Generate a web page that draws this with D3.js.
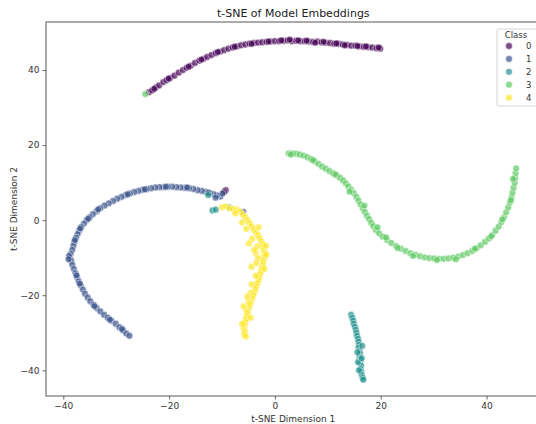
<!DOCTYPE html>
<html>
<head>
<meta charset="utf-8">
<script src="https://cdn.jsdelivr.net/npm/d3@7"></script>
<style>
  body { margin: 0; background: #fff; }
  svg { font-family: "DejaVu Sans", sans-serif; }
</style>
</head>
<body>
<div class="chart"></div>
<script>
// class labels and colours (viridis, 5 classes)
let classes = [0, 1, 2, 3, 4]
let colors = ["#440154", "#3b528b", "#21918c", "#5ec962", "#fde725"]

let xTicks = [-40, -20, 0, 20, 40]
let yTicks = [-40, -20, 0, 20, 40]

// points, [x, y] in t-SNE units
let class0 = [
  [-23.8,34.1],[-23.2,34.6],[-22.5,35.4],[-21.9,35.9],[-21.1,36.8],[-20.5,37.3],[-19.8,37.9],[-19.0,38.5],
  [-18.2,39.3],[-17.4,40.0],[-16.7,40.6],[-15.9,41.2],[-15.1,41.9],[-14.3,42.5],[-13.5,43.0],[-12.8,43.5],
  [-12.0,44.0],[-11.2,44.5],[-10.4,44.9],[-9.6,45.3],[-8.8,45.7],[-8.0,46.0],[-7.2,46.3],[-6.4,46.6],
  [-5.6,46.8],[-4.8,47.0],[-4.0,47.2],[-3.2,47.3],[-2.4,47.4],[-1.6,47.5],[-0.8,47.6],[0.0,47.7],
  [0.8,47.7],[1.6,47.8],[2.4,47.9],[3.2,47.7],[4.0,47.8],[4.8,47.7],[5.6,47.7],[6.4,47.6],
  [7.2,47.5],[8.0,47.6],[8.8,47.4],[9.6,47.3],[10.4,47.2],[11.2,47.0],[12.0,47.0],[12.8,46.8],
  [13.6,46.7],[14.4,46.5],[15.2,46.5],[16.0,46.3],[16.8,46.2],[17.6,46.1],[18.4,46.0],[19.2,45.8],[19.9,45.7],
  [-22.8,35.0],[-20.1,37.7],[-16.3,40.9],[-13.9,42.8],[-10.8,44.8],[-7.6,46.2],[-4.4,47.0],[-1.2,47.6],
  [1.2,47.9],[2.8,48.1],[4.4,47.9],[6.0,47.8],[7.6,47.3],[9.2,47.5],[11.6,47.1],[13.2,46.6],
  [15.6,46.4],[17.2,46.3],[19.6,46.0],
  [-9.3,8.0],[-9.6,7.5]
]

let class1 = [
  [-10.3,6.3],[-10.9,6.6],[-11.6,6.9],[-12.3,7.2],[-13.0,7.5],[-13.8,7.8],[-14.6,8.0],[-15.4,8.3],
  [-16.2,8.5],[-17.0,8.6],[-17.8,8.7],[-18.6,8.8],[-19.4,8.9],[-20.2,8.9],[-21.0,8.8],[-21.8,8.8],
  [-22.6,8.7],[-23.4,8.5],[-24.2,8.3],[-25.0,8.1],[-25.8,7.8],[-26.6,7.5],[-27.4,7.1],[-28.2,6.7],
  [-29.0,6.2],[-29.8,5.7],[-30.6,5.1],[-31.4,4.5],[-32.2,3.9],[-33.0,3.2],[-33.7,2.4],[-34.4,1.6],
  [-35.0,0.8],[-35.6,0.0],[-36.1,-0.9],[-36.6,-1.8],[-37.0,-2.8],[-37.3,-3.7],[-37.6,-4.7],[-37.9,-5.8],
  [-38.1,-6.8],[-38.3,-7.9],[-38.6,-9.0],[-38.8,-10.0],[-38.5,-10.8],[-38.3,-11.9],[-38.0,-13.0],[-37.7,-14.1],
  [-37.4,-15.2],[-37.1,-16.3],[-36.7,-17.4],[-36.3,-18.5],[-35.9,-19.6],[-35.4,-20.6],[-34.9,-21.6],[-34.3,-22.5],
  [-33.7,-23.4],[-33.0,-24.3],[-32.3,-25.2],[-31.6,-26.0],[-30.9,-26.8],[-30.1,-27.6],[-29.4,-28.5],[-28.7,-29.4],
  [-28.1,-30.2],[-27.5,-30.8],
  [-38.9,-9.5],[-39.0,-10.4],[-37.5,-14.7],[-36.9,-16.9],[-34.1,-22.9],[-31.2,-26.5],[-28.9,-29.0],[-33.4,2.9],
  [-35.3,0.4],[-36.8,-2.2],[-37.8,-5.3],[-20.6,8.9],[-24.6,8.2],[-27.8,6.9],[-16.6,8.7],[-12.6,7.3],
  [-11.2,6.0],[-9.9,7.1],[-6.0,2.2]
]

let class2 = [
  [14.4,-25.2],[14.6,-26.0],[14.8,-26.8],[14.9,-27.6],[15.1,-28.4],[15.3,-29.2],[15.4,-30.0],[15.5,-30.8],
  [15.7,-31.6],[15.8,-32.4],[15.9,-33.2],[15.8,-34.0],[16.0,-34.8],[16.1,-35.6],[16.0,-36.4],[16.2,-37.2],
  [16.1,-38.0],[16.3,-38.8],[16.2,-39.6],[16.3,-40.4],[16.4,-41.2],[16.6,-42.0],[16.7,-42.5],[15.6,-35.2],
  [15.7,-37.8],[15.9,-40.0],[16.5,-33.5],[16.4,-36.8],
  [-11.8,2.6],[-11.2,2.8],[-8.6,3.4],[-12.6,6.7]
]

let class3 = [
  [2.6,17.8],[3.3,17.8],[4.0,17.7],[4.7,17.5],[5.4,17.2],[6.1,16.8],[6.8,16.3],[7.5,15.7],
  [8.2,15.0],[8.9,14.3],[9.6,13.7],[10.3,13.1],[11.0,12.5],[11.7,11.9],[12.3,11.3],[12.9,10.6],
  [13.4,9.8],[13.9,9.0],[14.4,8.1],[14.9,7.2],[15.4,6.2],[15.8,5.2],[16.2,4.2],[16.6,3.2],
  [17.0,2.2],[17.4,1.2],[17.8,0.3],[18.2,-0.7],[18.6,-1.6],[19.1,-2.6],[19.7,-3.5],[20.4,-4.4],
  [21.2,-5.3],[22.0,-6.1],[22.9,-6.9],[23.8,-7.6],[24.7,-8.2],[25.6,-8.8],[26.5,-9.2],[27.4,-9.6],
  [28.3,-9.9],[29.2,-10.1],[30.1,-10.2],[31.0,-10.3],[31.9,-10.3],[32.8,-10.2],[33.7,-10.0],[34.6,-9.7],
  [35.5,-9.3],[36.4,-8.8],[37.3,-8.2],[38.1,-7.5],[38.9,-6.7],[39.7,-5.8],[40.4,-4.9],[41.1,-3.9],
  [41.7,-2.8],[42.3,-1.7],[42.8,-0.5],[43.3,0.8],[43.7,2.1],[44.1,3.4],[44.4,4.7],[44.7,6.0],
  [44.9,7.3],[45.1,8.6],[45.3,9.9],[45.4,11.2],[45.5,12.5],[45.6,13.8],
  [16.9,3.9],[19.4,-1.9],[21.0,-4.6],[23.2,-7.4],[26.1,-9.5],[30.6,-10.6],[34.2,-10.4],[37.8,-7.6],
  [40.9,-4.3],[43.0,0.2],[44.6,5.3],[45.0,11.0],[14.1,7.6],[11.4,12.2],[7.2,16.0],[3.0,17.5],
  [-24.5,33.6]
]

let class4 = [
  [-10.0,3.4],[-9.3,3.7],[-8.6,3.2],[-7.9,3.0],[-7.2,2.8],[-6.6,2.3],[-7.5,1.8],[-6.1,1.5],
  [-5.6,0.8],[-5.2,0.0],[-4.8,-0.8],[-4.4,-1.6],[-5.4,-2.3],[-4.0,-2.4],[-3.6,-3.2],[-3.2,-4.0],
  [-2.9,-4.8],[-2.6,-5.6],[-4.3,-5.0],[-2.4,-6.4],[-2.2,-7.2],[-3.3,-7.0],[-2.1,-8.0],[-2.0,-8.8],
  [-3.6,-8.8],[-2.0,-9.6],[-2.1,-10.4],[-3.2,-10.1],[-2.2,-11.2],[-2.3,-12.0],[-4.4,-12.4],[-2.5,-12.8],
  [-2.6,-13.6],[-2.8,-14.4],[-3.0,-15.2],[-3.1,-16.0],[-3.3,-16.8],[-3.5,-17.6],[-3.7,-18.4],[-3.9,-19.2],
  [-4.6,-19.4],[-4.1,-20.0],[-4.3,-20.8],[-4.5,-21.6],[-5.0,-21.8],[-4.7,-22.4],[-4.9,-23.2],[-5.1,-24.0],
  [-5.4,-24.4],[-5.2,-24.8],[-5.3,-25.6],[-5.5,-26.4],[-5.6,-27.2],[-5.7,-28.0],[-5.9,-28.8],[-5.7,-29.6],
  [-5.8,-30.4],[-5.5,-31.0],
  [-4.9,-6.2],[-1.7,-6.8],[-3.9,-7.9],[-1.6,-9.2],[-3.5,-11.4],[-2.0,-13.0],[-3.6,-14.8],[-4.4,-17.1],
  [-5.2,-20.4],[-5.9,-23.0],[-4.6,-26.0],[-6.2,-27.6],[-3.1,-1.9],[-6.2,-0.6]
]

let series = [class0, class1, class2, class3, class4]

let width = 536
let height = 424

// plot box in pixels (right edge runs off the picture like the reference)
let margin = { top: 22, left: 46, bottom: 396, right: 540.5 }

let svg = d3.select('.chart').append('svg')
    .attr("width", width)
    .attr("height", height)

let x = d3.scaleLinear()
    .domain([-43.27, 50.2])
    .range([margin.left, margin.right])

let y = d3.scaleLinear()
    .domain([-46.85, 52.8])
    .range([margin.bottom, margin.top])

// ======== points ========
let pts = svg.append("g")
series.forEach(function (data, i) {
    pts.selectAll(".c" + i)
        .data(data)
        .enter().append("circle")
        .attr("class", "c" + i)
        .attr("cx", function (d) { return x(d[0]) })
        .attr("cy", function (d) { return y(d[1]) })
        .attr("r", 3.4)
        .attr("fill", colors[i])
        .attr("fill-opacity", 0.7)
        .attr("stroke", "#fff")
        .attr("stroke-width", 0.5)
})

// ======== axes ========
let xAxis = d3.axisBottom(x).tickValues(xTicks).tickSize(3.5).tickPadding(3)
    .tickFormat(function (d) { return d < 0 ? "\u2212" + Math.abs(d) : d })
svg.append("g")
    .attr("transform", "translate(0," + margin.bottom + ")")
    .call(xAxis)
    .call(function (g) { g.select(".domain").remove() })

let yAxis = d3.axisLeft(y).tickValues(yTicks).tickSize(3.5).tickPadding(3)
    .tickFormat(function (d) { return d < 0 ? "\u2212" + Math.abs(d) : d })
svg.append("g")
    .attr("transform", "translate(" + margin.left + ",0)")
    .call(yAxis)
    .call(function (g) { g.select(".domain").remove() })

svg.selectAll(".tick text")
    .attr("font-family", "DejaVu Sans, sans-serif")
    .attr("font-size", 9)
    .attr("fill", "#333")
svg.selectAll(".tick line").attr("stroke", "#444").attr("stroke-width", 0.8)

// frame
svg.append("rect")
    .attr("x", margin.left)
    .attr("y", margin.top)
    .attr("width", margin.right - margin.left)
    .attr("height", margin.bottom - margin.top)
    .attr("fill", "none")
    .attr("stroke", "#444")
    .attr("stroke-width", 0.9)

// ======== labels ========
let midX = (margin.left + margin.right) / 2
svg.append("text")
    .attr("x", midX).attr("y", 17)
    .attr("text-anchor", "middle")
    .attr("font-size", 11)
    .attr("fill", "#222")
    .text("t-SNE of Model Embeddings")

svg.append("text")
    .attr("x", midX).attr("y", 422)
    .attr("text-anchor", "middle")
    .attr("font-size", 9)
    .attr("fill", "#333")
    .text("t-SNE Dimension 1")

svg.append("text")
    .attr("transform", "translate(17," + ((margin.top + margin.bottom) / 2) + ") rotate(-90)")
    .attr("text-anchor", "middle")
    .attr("font-size", 9)
    .attr("fill", "#333")
    .text("t-SNE Dimension 2")

// ======== legend ========
let legend = svg.append("g")
legend.append("rect")
    .attr("x", 497).attr("y", 29)
    .attr("width", 60).attr("height", 77)
    .attr("rx", 2)
    .attr("fill", "#fff").attr("fill-opacity", 0.8)
    .attr("stroke", "#ccc").attr("stroke-width", 0.8)

legend.append("text")
    .attr("x", 516).attr("y", 38)
    .attr("text-anchor", "middle")
    .attr("font-size", 8.5)
    .attr("fill", "#333")
    .text("Class")

let items = legend.selectAll(".item")
    .data(classes)
    .enter().append("g")
    .attr("class", "item")
    .attr("transform", function (d, i) { return "translate(0," + (46 + i * 12.9) + ")" })

items.append("circle")
    .attr("cx", 509).attr("cy", 0)
    .attr("r", 3.4)
    .attr("fill", function (d, i) { return colors[i] })
    .attr("fill-opacity", 0.7)
    .attr("stroke", "#fff").attr("stroke-width", 0.5)

items.append("text")
    .attr("x", 526).attr("y", 3)
    .attr("font-size", 8.5)
    .attr("fill", "#333")
    .text(function (d) { return d })
</script>
</body>
</html>
